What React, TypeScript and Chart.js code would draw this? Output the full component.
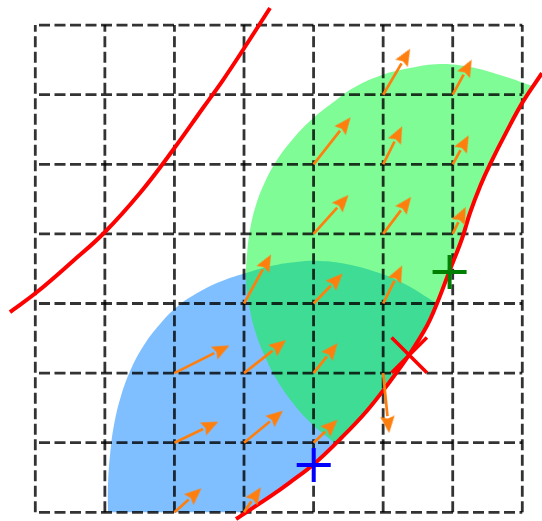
import React, { useEffect, useRef } from 'react';
import { Chart, registerables } from 'chart.js';

Chart.register(...registerables);

// Axis ranges (data units); the dashed grid spans 0..7 on both axes
const X_MIN = -0.5074;
const X_MAX = 7.2833;
const Y_MIN = -0.125;
const Y_MAX = 7.3606;

const gridTicks = [0, 1, 2, 3, 4, 5, 6, 7];

// Left red curve
const leftCurveX = [-0.364, 0.024, 0.542, 0.987, 1.505, 1.979, 2.41, 2.698, 2.985, 3.374];
const leftCurveY = [2.877, 3.165, 3.611, 4.013, 4.588, 5.205, 5.809, 6.211, 6.642, 7.246];

// Right red curve
const rightCurveX = [2.885, 3.388, 3.661, 4.006, 4.38, 4.768, 5.098, 5.372, 5.63, 5.774, 5.947, 6.133, 6.248, 6.4, 6.536, 6.78, 7.01, 7.283];
const rightCurveY = [-0.096, 0.235, 0.43, 0.694, 1.05, 1.46, 1.88, 2.26, 2.68, 3.0, 3.45, 3.93, 4.3, 4.7, 5.0, 5.48, 5.9, 6.31];

// Blue region: outer arc (from the bottom edge round to the red curve)
const blueArcX = [1.045, 1.045, 1.074, 1.131, 1.232, 1.376, 1.563, 1.793, 2.051, 2.353, 2.684, 3.029, 3.388, 3.747, 4.092, 4.466, 4.854, 5.256, 5.774];
const blueArcY = [0, 0.392, 0.823, 1.254, 1.671, 2.059, 2.404, 2.706, 2.964, 3.165, 3.323, 3.438, 3.539, 3.597, 3.611, 3.568, 3.467, 3.309, 3.0];
// where the red curve meets the bottom edge
const blueEndX = [3.03];
const blueEndY = [0];

// Green region: outer arc (from the red curve round to the red curve)
const greenArcX = [4.322, 3.977, 3.69, 3.457, 3.285, 3.155, 3.072, 3.029, 3.043, 3.086, 3.172, 3.301, 3.474, 3.69, 3.948, 4.25, 4.595, 4.983, 5.386, 5.817, 6.249, 6.68, 7.15];
const greenArcY = [0.981, 1.269, 1.585, 1.93, 2.274, 2.619, 2.978, 3.338, 3.697, 4.056, 4.415, 4.746, 5.062, 5.349, 5.622, 5.866, 6.11, 6.283, 6.383, 6.441, 6.398, 6.283, 6.125];

// Orange arrows: tails and vectors
const arrowX = [2, 3, 2, 3, 4, 2, 3, 4, 5, 3, 4, 5, 4, 5, 6, 4, 5, 6, 5, 6];
const arrowY = [0, 0, 1, 1, 1, 2, 2, 2, 2, 3, 3, 3, 4, 4, 4, 5, 5, 5, 6, 6];
const arrowU = [0.388, 0.244, 0.632, 0.561, 0.345, 0.79, 0.604, 0.345, 0.086, 0.388, 0.417, 0.273, 0.503, 0.402, 0.187, 0.532, 0.273, 0.23, 0.388, 0.273];
const arrowV = [0.345, 0.359, 0.302, 0.46, 0.33, 0.397, 0.474, 0.431, -0.862, 0.704, 0.431, 0.546, 0.56, 0.532, 0.388, 0.675, 0.546, 0.417, 0.661, 0.503];

// Markers: blue plus, green plus, red x
const markerX = [4.002, 5.955, 5.375];
const markerY = [0.68, 3.452, 2.258];

const W = 542;
const H = 521;
const SX = W / (X_MAX - X_MIN);
const SY = H / (Y_MAX - Y_MIN);
const ORANGE = '#ff7f0e';
const HEAD_LEN = 17;
const HEAD_W = 14.5;

function makeHead(): HTMLCanvasElement {
  const c = document.createElement('canvas');
  c.width = Math.ceil(HEAD_W);
  c.height = HEAD_LEN * 2;
  const g = c.getContext('2d')!;
  const cw = c.width;
  g.fillStyle = ORANGE;
  g.beginPath();
  g.moveTo(cw / 2, 0);
  g.lineTo(cw / 2 + HEAD_W / 2, HEAD_LEN);
  g.lineTo(cw / 2, HEAD_LEN * 0.86);
  g.lineTo(cw / 2 - HEAD_W / 2, HEAD_LEN);
  g.closePath();
  g.fill();
  return c;
}

const pts = (xs: number[], ys: number[]) => xs.map((x, i) => ({ x, y: ys[i] }));

export default function App() {
  const ref = useRef<HTMLCanvasElement>(null);

  useEffect(() => {
    if (!ref.current) return;
    const head = makeHead();
    const datasets: any[] = [];
    const curve = pts(rightCurveX, rightCurveY);

    // markers
    datasets.push({
      data: [{ x: markerX[0], y: markerY[0] }], showLine: false, pointStyle: 'cross', pointRadius: 17,
      pointBorderWidth: 4, pointBorderColor: '#0000ff', pointBackgroundColor: '#0000ff', order: 0,
    });
    datasets.push({
      data: [{ x: markerX[1], y: markerY[1] }], showLine: false, pointStyle: 'cross', pointRadius: 17,
      pointBorderWidth: 4, pointBorderColor: '#008000', pointBackgroundColor: '#008000', order: 0,
    });
    datasets.push({
      data: [{ x: markerX[2], y: markerY[2] }], showLine: false, pointStyle: 'crossRot', pointRadius: 25,
      pointBorderWidth: 3.5, pointBorderColor: '#ff0000', pointBackgroundColor: '#ff0000', order: 0,
    });

    // arrows
    arrowX.forEach((x0, i) => {
      const y0 = arrowY[i];
      const ex = x0 + arrowU[i];
      const ey = y0 + arrowV[i];
      const dxp = arrowU[i] * SX;
      const dyp = arrowV[i] * SY;
      const lp = Math.hypot(dxp, dyp);
      const cx = ex - (HEAD_LEN * dxp) / lp / SX;
      const cy = ey - (HEAD_LEN * dyp) / lp / SY;
      const rot = (Math.atan2(dxp, dyp) * 180) / Math.PI;
      datasets.push({
        data: [{ x: x0, y: y0 }, { x: cx, y: cy }],
        borderColor: ORANGE, borderWidth: 2.7, borderCapStyle: 'butt', tension: 0,
        pointRadius: [0, 8], pointStyle: head, pointRotation: rot, fill: false, order: 1,
      });
    });

    // red curves
    datasets.push({
      data: pts(leftCurveX, leftCurveY), borderColor: '#ff0000', borderWidth: 4, tension: 0.4,
      pointRadius: 0, fill: false, order: 2,
    });
    datasets.push({
      data: curve, borderColor: '#ff0000', borderWidth: 4, tension: 0.4,
      pointRadius: 0, fill: false, order: 2,
    });

    // dashed grid
    gridTicks.forEach((t) => {
      datasets.push({
        data: [{ x: t, y: gridTicks[0] }, { x: t, y: gridTicks[gridTicks.length - 1] }],
        borderColor: 'rgba(0,0,0,0.8)', borderWidth: 2.8, borderDash: [11, 4.5], borderDashOffset: 0,
        borderCapStyle: 'butt', pointRadius: 0, fill: false, order: 3,
      });
      datasets.push({
        data: [{ x: gridTicks[0], y: t }, { x: gridTicks[gridTicks.length - 1], y: t }],
        borderColor: 'rgba(0,0,0,0.8)', borderWidth: 2.8, borderDash: [11, 4.5], borderDashOffset: 11.8,
        borderCapStyle: 'butt', pointRadius: 0, fill: false, order: 3,
      });
    });

    // regions (corner point repeated so the outline keeps a sharp corner there)
    const greenArc = pts(greenArcX, greenArcY);
    const greenRegion = [...greenArc, greenArc[greenArc.length - 1], ...curve.slice(4, 17).reverse()];
    const blueArc = pts(blueArcX, blueArcY);
    const blueRegion = [...blueArc, blueArc[blueArc.length - 1], ...curve.slice(1, 9).reverse(), ...pts(blueEndX, blueEndY)];

    datasets.push({
      data: greenRegion, fill: 'shape', backgroundColor: 'rgba(0,250,44,0.5)',
      borderColor: 'rgba(0,0,0,0)', borderWidth: 0, pointRadius: 0, tension: 0.4, order: 4,
    });
    datasets.push({
      data: blueRegion, fill: 'shape', backgroundColor: 'rgba(0,128,255,0.5)',
      borderColor: 'rgba(0,0,0,0)', borderWidth: 0, pointRadius: 0, tension: 0.4, order: 5,
    });

    const chart = new Chart(ref.current, {
      type: 'line',
      data: { datasets },
      options: {
        animation: false,
        responsive: false,
        devicePixelRatio: 1,
        events: [],
        layout: { padding: 0, autoPadding: false },
        plugins: { legend: { display: false }, tooltip: { enabled: false } },
        scales: {
          x: { type: 'linear', min: X_MIN, max: X_MAX, display: false },
          y: { type: 'linear', min: Y_MIN, max: Y_MAX, display: false },
        },
      },
    });
    return () => chart.destroy();
  }, []);

  return (
    <div style={{ position: 'absolute', left: 0, top: 0, width: W, height: H, background: '#fff' }}>
      <canvas ref={ref} width={W} height={H} />
    </div>
  );
}
